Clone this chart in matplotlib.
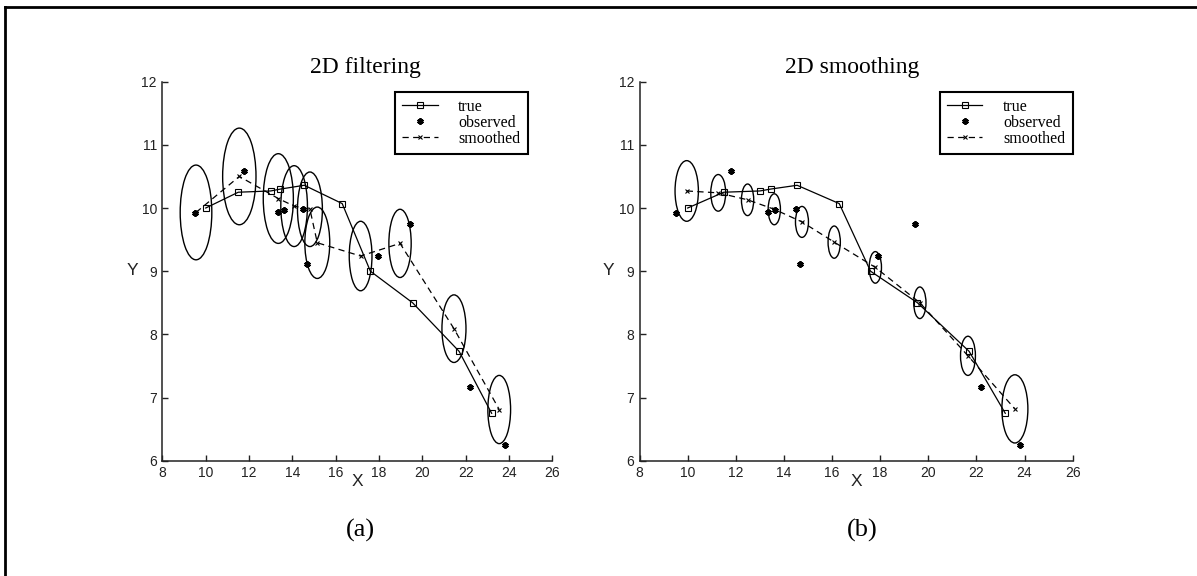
import matplotlib
matplotlib.use('Agg')
import matplotlib.pyplot as plt
from matplotlib.patches import Ellipse
from matplotlib.lines import Line2D

# true trajectory
true_x = [10.0, 11.5, 13.0, 13.45, 14.55, 16.3, 17.6, 19.55, 21.7, 23.2]
true_y = [10.0, 10.25, 10.27, 10.30, 10.36, 10.07, 9.0, 8.5, 7.73, 6.75]

# noisy observations
obs_x = [9.5, 11.78, 13.33, 13.62, 14.49, 14.67, 17.93, 19.43, 22.2, 23.8]
obs_y = [9.92, 10.58, 9.93, 9.97, 9.98, 9.12, 9.24, 9.74, 7.16, 6.25]

# filtered estimates and ellipse sizes (data units)
filt_x = [9.55, 11.55, 13.35, 14.08, 14.81, 15.15, 17.15, 18.97, 21.46, 23.55]
filt_y = [9.93, 10.5, 10.15, 10.03, 9.98, 9.45, 9.24, 9.44, 8.09, 6.81]
filt_w = [1.46, 1.54, 1.39, 1.23, 1.15, 1.15, 1.05, 1.03, 1.11, 1.05]
filt_h = [1.50, 1.53, 1.42, 1.28, 1.18, 1.13, 1.10, 1.08, 1.07, 1.08]

# smoothed estimates and ellipse sizes
sm_x = [9.96, 11.27, 12.49, 13.6, 14.75, 16.09, 17.8, 19.65, 21.65, 23.6]
sm_y = [10.27, 10.24, 10.13, 9.98, 9.78, 9.46, 9.06, 8.5, 7.66, 6.82]
sm_w = [0.97, 0.62, 0.51, 0.51, 0.54, 0.51, 0.51, 0.51, 0.62, 1.08]
sm_h = [0.96, 0.58, 0.50, 0.49, 0.49, 0.51, 0.50, 0.50, 0.62, 1.08]

xticks = [8, 10, 12, 14, 16, 18, 20, 22, 24, 26]
yticks = [6, 7, 8, 9, 10, 11, 12]

serif = 'Liberation Serif'
sans = 'Liberation Sans'

fig = plt.figure(figsize=(11.97, 5.76), dpi=100)

# outer frame (only top and left edges visible)
fig.add_artist(Line2D([5 / 1197, 5 / 1197], [0, 1 - 7 / 576], color='black', lw=2))
fig.add_artist(Line2D([5 / 1197, 1], [1 - 7 / 576, 1 - 7 / 576], color='black', lw=2))

ax1 = fig.add_axes([0.1357, 0.2002, 0.3257, 0.658])
ax2 = fig.add_axes([0.5343, 0.2002, 0.3618, 0.658])


def draw_panel(ax, ex, ey, ew, eh, title, title_x, leg_x):
    for cx, cy, w, h in zip(ex, ey, ew, eh):
        ax.add_patch(Ellipse((cx, cy), w, h, fill=False, edgecolor='black', lw=1.0, zorder=1))
    ax.plot(true_x, true_y, '-', color='black', lw=0.9, marker='s', ms=4.2,
            mfc='none', mew=0.8, label='true', zorder=3)
    ax.plot(obs_x, obs_y, linestyle='none', color='black', marker=(6, 2, 0), ms=4.5,
            mew=1.6, label='observed', zorder=3)
    ax.plot(ex, ey, color='black', lw=0.9, dashes=(5, 3.5), marker='x', ms=3.5,
            mew=0.8, label='smoothed', zorder=3)

    ax.set_xlim(8, 26)
    ax.set_ylim(6, 12)
    ax.set_xticks(xticks)
    ax.set_yticks(yticks)
    ax.spines['top'].set_visible(False)
    ax.spines['right'].set_visible(False)
    for s in ['left', 'bottom']:
        ax.spines[s].set_linewidth(1.1)
        ax.spines[s].set_color('#222222')
    ax.tick_params(direction='in', length=4, width=1, colors='#222222', pad=4,
                   labelsize=10)
    for lab in ax.get_xticklabels() + ax.get_yticklabels():
        lab.set_fontfamily(sans)

    ax.set_xlabel('X', fontsize=12.5, family=sans, color='#222222', va='center')
    ax.xaxis.set_label_coords(0.5, -0.055)
    ax.set_ylabel('Y', fontsize=12.5, family=sans, color='#222222', rotation=0,
                  va='center', ha='center')

    ax.set_title(title, fontsize=17, family=serif, x=title_x, y=1.024, pad=0,
                 va='baseline')

    leg = ax.legend(loc='upper left', bbox_to_anchor=(leg_x, 0.974), borderaxespad=0,
                    prop={'family': serif, 'size': 11.5}, handlelength=2.2,
                    handletextpad=1.3, labelspacing=0.0, borderpad=0.45,
                    fancybox=False, framealpha=1, edgecolor='black')
    leg.get_frame().set_linewidth(1.5)


draw_panel(ax1, filt_x, filt_y, filt_w, filt_h, '2D filtering', 0.52, 0.597)
ax1.yaxis.set_label_coords(-0.078, 0.503)
draw_panel(ax2, sm_x, sm_y, sm_w, sm_h, '2D smoothing', 0.49, 0.694)
ax2.yaxis.set_label_coords(-0.073, 0.503)

fig.text(360 / 1197, 1 - 530 / 576, '(a)', fontsize=19, family=serif, ha='center', va='center')
fig.text(862 / 1197, 1 - 530 / 576, '(b)', fontsize=19, family=serif, ha='center', va='center')

fig.savefig('out.png', dpi=100)
